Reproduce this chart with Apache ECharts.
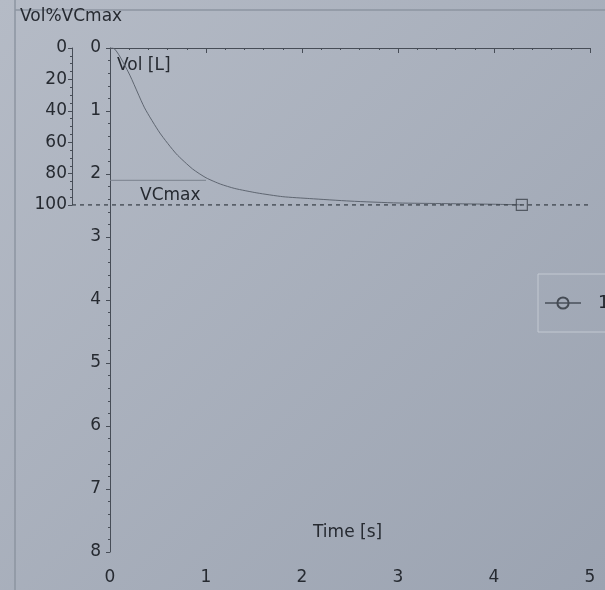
<!DOCTYPE html>
<html>
<head>
<meta charset="utf-8">
<script src="https://cdn.jsdelivr.net/npm/echarts@6/dist/echarts.min.js"></script>
<style>
html,body{margin:0;padding:0;background:#a9b0bc;}
#chart{width:605px;height:590px;}
</style>
</head>
<body>
<div id="chart"></div>
<script>
// Data
var timeS = [0, 0.03, 0.19, 0.36, 0.52, 0.69, 0.86, 1.0, 1.15, 1.3, 1.53, 1.8, 2.08, 2.5, 3.0, 3.5, 4.0, 4.29];
var volL  = [0, 0, 0.38, 0.95, 1.35, 1.68, 1.92, 2.06, 2.16, 2.23, 2.30, 2.36, 2.39, 2.43, 2.46, 2.47, 2.48, 2.49];
var fev1L = 2.10;        // horizontal marker level
var fev1Time = 1.0;
var vcmaxPct = 100;      // VCmax reference (100 %)
var volTicks = [0,1,2,3,4,5,6,7,8];
var pctTicks = [0,20,40,60,80,100];
var timeTicks = [0,1,2,3,4,5];
var seriesName = '1';

var curve = timeS.map(function(t,i){return [t, volL[i]];});
var endPoint = [[timeS[timeS.length-1], volL[volL.length-1]]];
var fevLine = [[0, fev1L],[fev1Time, fev1L]];

var txt = '#262a31';
var axisCol = '#474d57';
var font = 'DejaVu Sans';

var chart = echarts.init(document.getElementById('chart'));
chart.setOption({
  backgroundColor: new echarts.graphic.LinearGradient(0,0,1,1,[
    {offset:0,color:'#b5bbc6'},{offset:1,color:'#9ba3b1'}]),
  animation:false,
  textStyle:{fontFamily:font},
  grid:[
    {left:110, top:48, width:480, height:504},
    {left:72, top:48, width:520, height:157}
  ],
  xAxis:[
    {gridIndex:0, type:'value', min:timeTicks[0], max:timeTicks[timeTicks.length-1], interval:1,
     axisLine:{show:true,lineStyle:{color:axisCol,width:1}},
     axisTick:{show:true,length:5,lineStyle:{color:axisCol}},
     minorTick:{show:true,splitNumber:5,length:2,lineStyle:{color:axisCol}},
     splitLine:{show:false},
     axisLabel:{fontSize:17,color:txt,margin:17,fontFamily:font}},
    {gridIndex:1, type:'value', min:0, max:1, show:false}
  ],
  yAxis:[
    {gridIndex:0, type:'value', inverse:true, min:volTicks[0], max:volTicks[volTicks.length-1], interval:1,
     axisLine:{show:true,lineStyle:{color:axisCol,width:1}},
     axisTick:{show:true,length:4,lineStyle:{color:axisCol}},
     minorTick:{show:true,splitNumber:5,length:2,lineStyle:{color:axisCol}},
     splitLine:{show:false},
     axisLabel:{fontSize:17,color:txt,margin:9,fontFamily:font}},
    {gridIndex:1, type:'value', inverse:true, min:pctTicks[0], max:pctTicks[pctTicks.length-1], interval:20,
     axisLine:{show:true,lineStyle:{color:axisCol,width:1}},
     axisTick:{show:true,length:4,lineStyle:{color:axisCol}},
     minorTick:{show:true,splitNumber:4,length:2,lineStyle:{color:axisCol}},
     splitLine:{show:false},
     axisLabel:{fontSize:17,color:txt,margin:5,fontFamily:font}}
  ],
  legend:{
    data:[seriesName], left:538, top:274, orient:'vertical',
    padding:[20,30,20,6], itemWidth:36, itemHeight:14,
    borderColor:'#c3c9d2', borderWidth:1,
    textStyle:{fontSize:18,color:'#20242b',fontFamily:font,padding:[0,0,0,12]}
  },
  series:[
    {name:seriesName, type:'line', xAxisIndex:0, yAxisIndex:0, data:curve, smooth:0.2,
     symbol:'circle', symbolSize:11, showSymbol:false,
     lineStyle:{color:'#5f6671',width:1},
     itemStyle:{color:'rgba(0,0,0,0)',borderColor:'#454b54',borderWidth:1.2}},
    {name:'end', type:'scatter', xAxisIndex:0, yAxisIndex:0, data:endPoint,
     symbol:'rect', symbolSize:11,
     itemStyle:{color:'rgba(0,0,0,0)',borderColor:'#3d434c',borderWidth:1.2}, z:5},
    {name:'fev', type:'line', xAxisIndex:0, yAxisIndex:0, data:fevLine, symbol:'none',
     lineStyle:{color:'#7a818c',width:1}},
    {name:'vcmax', type:'line', xAxisIndex:1, yAxisIndex:1, data:[[0,vcmaxPct],[1,vcmaxPct]], symbol:'none',
     lineStyle:{color:'#3f454e',width:1.5,type:[4,4]}}
  ],
  graphic:[
    {type:'line', shape:{x1:15,y1:0,x2:15,y2:590}, style:{stroke:'#8d94a0',lineWidth:1.5}},
    {type:'line', shape:{x1:15,y1:10,x2:605,y2:10}, style:{stroke:'#8d94a0',lineWidth:1.5}},
    {type:'text', left:20, top:8, style:{text:'Vol%VCmax',fontSize:17,fill:txt,fontFamily:font}},
    {type:'text', left:117, top:57, style:{text:'Vol [L]',fontSize:17,fill:txt,fontFamily:font}},
    {type:'text', left:140, top:187, style:{text:'VCmax',fontSize:17,fill:txt,fontFamily:font}},
    {type:'text', left:313, top:524, style:{text:'Time [s]',fontSize:17,fill:txt,fontFamily:font}}
  ]
});
</script>
</body>
</html>
